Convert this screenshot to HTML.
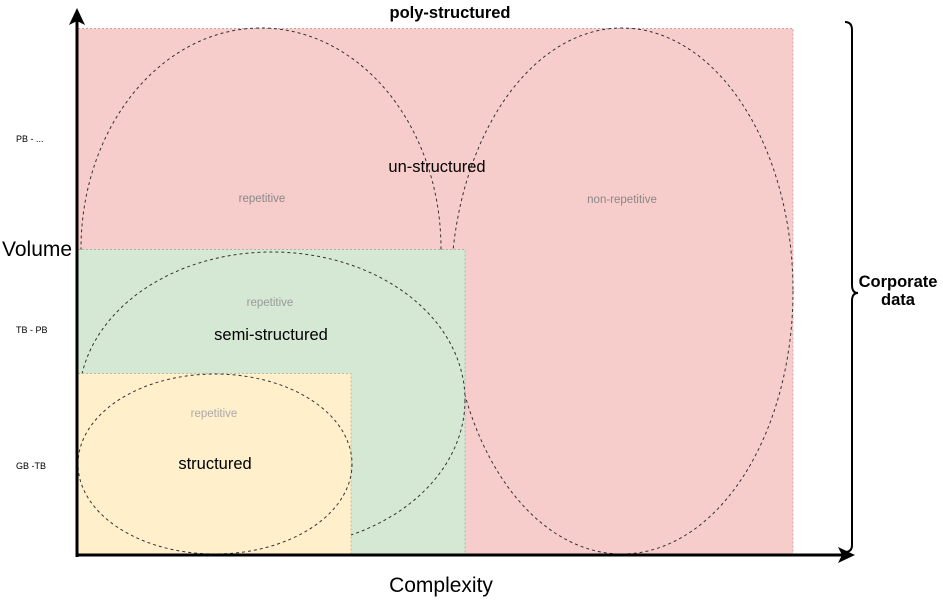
<!DOCTYPE html>
<html><head><meta charset="utf-8"><style>
html,body{margin:0;padding:0;background:#fff;}
svg{display:block;font-family:"Liberation Sans",Arial,sans-serif;}
</style></head><body>
<svg width="943" height="600" viewBox="0 0 943 600" xmlns="http://www.w3.org/2000/svg">
<rect x="78" y="28.5" width="715" height="527" fill="#f7cdcc" stroke="#b88" stroke-width="0.7" stroke-dasharray="2 2"/>
<g fill="none" stroke="#333" stroke-width="1" stroke-dasharray="3 3">
<ellipse cx="261" cy="249" rx="180" ry="221"/>
<ellipse cx="622" cy="291" rx="171" ry="263"/>
</g>
<rect x="78" y="249.5" width="387" height="306" fill="#d5e8d4" stroke="#9a9" stroke-width="0.7" stroke-dasharray="2 2"/>
<ellipse cx="272" cy="400" rx="193" ry="148" fill="none" stroke="#333" stroke-width="1" stroke-dasharray="3 3"/>
<rect x="78" y="373.5" width="273" height="182" fill="#fff0cb" stroke="#aa9" stroke-width="0.7" stroke-dasharray="2 2"/>
<ellipse cx="215" cy="464" rx="137" ry="90" fill="none" stroke="#333" stroke-width="1" stroke-dasharray="3 3"/>
<line x1="77" y1="557" x2="77" y2="20" stroke="#000" stroke-width="3"/>
<polygon points="77,8 69,25 77,21 85,25" fill="#000"/>
<line x1="76" y1="555" x2="842" y2="555" stroke="#000" stroke-width="3"/>
<polygon points="855,555 838,547 842,555 838,563" fill="#000"/>
<path d="M845,22 Q852,22 852,30 L852,285 Q852,293 858,293 Q852,293 852,301 L852,545 Q852,552 845,552" fill="none" stroke="#000" stroke-width="2"/>
<text x="450" y="18" font-size="16.5" font-weight="bold" text-anchor="middle">poly-structured</text>
<text x="437" y="172" font-size="16.5" text-anchor="middle">un-structured</text>
<text x="262" y="202" font-size="11.5" fill="#888" text-anchor="middle">repetitive</text>
<text x="622" y="203" font-size="11.5" fill="#888" text-anchor="middle">non-repetitive</text>
<text x="270" y="306" font-size="11.5" fill="#999" text-anchor="middle">repetitive</text>
<text x="271" y="340" font-size="16.5" text-anchor="middle">semi-structured</text>
<text x="214" y="417" font-size="11.5" fill="#aaa" text-anchor="middle">repetitive</text>
<text x="215" y="469" font-size="16.5" text-anchor="middle">structured</text>
<text x="2" y="256" font-size="21">Volume</text>
<text x="441" y="592" font-size="21" text-anchor="middle">Complexity</text>
<text x="16" y="142" font-size="9">PB - ...</text>
<text x="16" y="333" font-size="9">TB - PB</text>
<text x="16" y="469" font-size="9">GB -TB</text>
<text x="898" y="287" font-size="16.5" font-weight="bold" text-anchor="middle">Corporate</text>
<text x="898" y="305" font-size="16.5" font-weight="bold" text-anchor="middle">data</text>
</svg>
</body></html>
